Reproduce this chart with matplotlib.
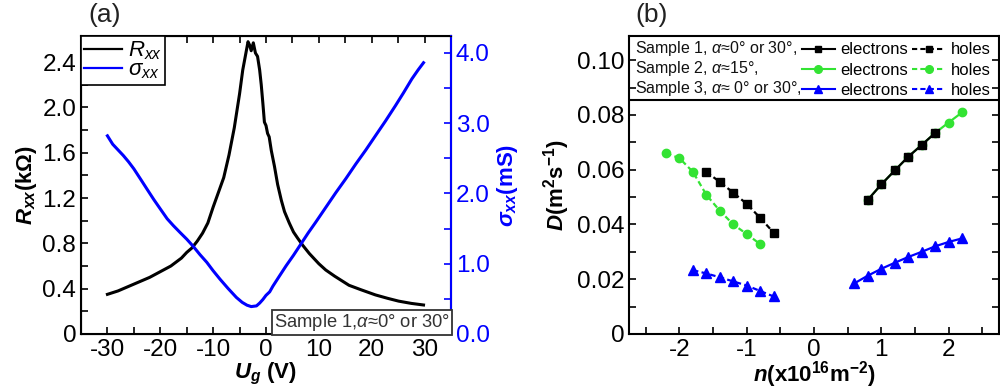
import matplotlib
matplotlib.use("Agg")
import matplotlib.pyplot as plt
from matplotlib.lines import Line2D
from matplotlib.ticker import MultipleLocator, FixedLocator

plt.rcParams['font.family'] = ['Liberation Sans', 'DejaVu Sans']
plt.rcParams['axes.unicode_minus'] = False
plt.rcParams['mathtext.fontset'] = 'custom'
plt.rcParams['mathtext.rm'] = 'Liberation Sans:bold'
plt.rcParams['mathtext.it'] = 'Liberation Sans:italic'
plt.rcParams['mathtext.bf'] = 'Liberation Sans:bold:italic'

# ---------------- Panel (a) data ----------------
ug_R = [-30, -28, -26, -24, -22, -20, -18, -16, -15, -14, -13, -12, -11, -10, -9, -8, -7, -6, -5,
        -4.4, -3.8, -3.4, -3.1, -2.8, -2.4, -2.0, -1.6, -1.2, -0.9, -0.6, -0.3, 0.0, 0.3, 0.6, 1.0,
        1.6, 2.2, 2.9, 3.5, 4.4, 5.2, 6.0, 7.0, 8.2, 10.0, 11.3, 13.0, 15.7, 18.0, 20.7, 23.0,
        25.1, 27.5, 29.8]
R_xx = [0.35, 0.38, 0.42, 0.46, 0.50, 0.55, 0.60, 0.67, 0.72, 0.76, 0.82, 0.89, 0.98, 1.12, 1.25,
        1.38, 1.58, 1.82, 2.12, 2.33, 2.48, 2.58, 2.55, 2.50, 2.57, 2.48, 2.45, 2.33, 2.20, 2.04,
        1.87, 1.84, 1.77, 1.74, 1.62, 1.48, 1.32, 1.18, 1.08, 0.98, 0.90, 0.845, 0.78, 0.71, 0.62,
        0.565, 0.51, 0.43, 0.39, 0.345, 0.315, 0.29, 0.27, 0.256]

ug_s = [-30, -29, -28, -27, -26, -25, -23.7, -22.5, -21.2, -20, -18.7, -17.5, -16.2, -15, -13.8,
        -12.5, -11.2, -10, -8.7, -7.2, -5.6, -4.5, -3.6, -2.8, -1.8, -1.2, -0.6, 0.0, 0.7, 1.3,
        2.5, 3.8, 5.2, 6.6, 8.0, 9.4, 11.3, 13.2, 15.1, 17.0, 18.9, 20.7, 22.6, 24.5, 26.0, 27.6,
        28.8, 29.8]
sigma_xx = [2.82, 2.70, 2.62, 2.54, 2.45, 2.35, 2.20, 2.06, 1.91, 1.78, 1.64, 1.54, 1.44, 1.35,
            1.25, 1.13, 1.02, 0.90, 0.78, 0.65, 0.52, 0.45, 0.41, 0.39, 0.40, 0.44, 0.49, 0.55,
            0.60, 0.68, 0.82, 0.97, 1.12, 1.28, 1.44, 1.59, 1.80, 2.01, 2.21, 2.42, 2.62, 2.82,
            3.03, 3.25, 3.43, 3.63, 3.76, 3.86]

# ---------------- Panel (b) data ----------------
n_s1_h = [-1.6, -1.4, -1.2, -1.0, -0.8, -0.6]
D_s1_h = [0.0592, 0.0555, 0.0516, 0.0475, 0.0424, 0.0370]
n_s1_e = [0.8, 1.0, 1.2, 1.4, 1.6, 1.8]
D_s1_e = [0.0490, 0.0546, 0.0597, 0.0647, 0.0690, 0.0734]

n_s2_h = [-2.2, -2.0, -1.8, -1.6, -1.4, -1.2, -1.0, -0.8]
D_s2_h = [0.0660, 0.0642, 0.0592, 0.0508, 0.0450, 0.0400, 0.0365, 0.0328]
n_s2_e = [0.8, 1.0, 1.2, 1.4, 1.6, 1.8, 2.0, 2.2]
D_s2_e = [0.0490, 0.0546, 0.0597, 0.0647, 0.0690, 0.0734, 0.0772, 0.0809]

n_s3_h = [-1.8, -1.6, -1.4, -1.2, -1.0, -0.8, -0.6]
D_s3_h = [0.0233, 0.0221, 0.0207, 0.0192, 0.0177, 0.0157, 0.0137]
n_s3_e = [0.6, 0.8, 1.0, 1.2, 1.4, 1.6, 1.8, 2.0, 2.2]
D_s3_e = [0.0185, 0.0213, 0.0238, 0.0260, 0.0281, 0.0300, 0.0320, 0.0336, 0.0349]

sample_labels = ["Sample 1, $\\alpha$≈0° or 30°,", "Sample 2, $\\alpha$≈15°,",
                 "Sample 3, $\\alpha$≈ 0° or 30°,"]

BLUE = '#0000ff'
GREEN = '#33e333'

fig = plt.figure(figsize=(10, 3.89), dpi=100)
axA = fig.add_axes([0.081, 0.1414, 0.370, 0.766])
axB = fig.add_axes([0.629, 0.1414, 0.370, 0.766])

TICK_FS = 17.5
LABEL_FS = 16

# ---- Panel (a)
axA.plot(ug_R, R_xx, color='black', lw=2.2, label='$R_{xx}$')
axA.set_xlim(-35, 35)
axA.set_ylim(0, 2.63)
axA.xaxis.set_major_locator(MultipleLocator(10))
axA.xaxis.set_minor_locator(MultipleLocator(5))
axA.yaxis.set_major_locator(FixedLocator([0, 0.4, 0.8, 1.2, 1.6, 2.0, 2.4]))
axA.yaxis.set_minor_locator(MultipleLocator(0.2))
axA.set_yticklabels(['0', '0.4', '0.8', '1.2', '1.6', '2.0', '2.4'])
axA.tick_params(which='both', direction='in', top=True, labelsize=TICK_FS, width=1.2, length=5)
axA.set_xlabel('$\\mathbf{U_g}$ (V)', fontsize=LABEL_FS, fontweight='bold', labelpad=0)
axA.set_ylabel('$\\mathbf{R_{xx}}$(kΩ)', fontsize=LABEL_FS, fontweight='bold', labelpad=2)
for sp in axA.spines.values():
    sp.set_linewidth(1.5)

axA2 = axA.twinx()
axA2.plot(ug_s, sigma_xx, color=BLUE, lw=2.2, label='$\\sigma_{xx}$')
axA2.set_ylim(0, 4.24)
axA2.yaxis.set_major_locator(MultipleLocator(1.0))
axA2.yaxis.set_minor_locator(MultipleLocator(0.5))
axA2.yaxis.set_major_formatter(matplotlib.ticker.FormatStrFormatter('%.1f'))
axA2.tick_params(which='both', direction='in', labelsize=TICK_FS, colors=BLUE, width=1.2, length=5)
axA2.spines['right'].set_color(BLUE)
axA2.spines['right'].set_linewidth(1.5)
axA2.set_ylabel('$\\mathbf{\\sigma_{xx}}$(mS)', fontsize=LABEL_FS, fontweight='bold',
                color=BLUE, labelpad=4)

handles = [Line2D([], [], color='black', lw=1.6), Line2D([], [], color=BLUE, lw=1.6)]
legA = axA2.legend(handles, ['$R_{xx}$', '$\\sigma_{xx}$'], loc='upper left',
                   borderaxespad=0, fancybox=False, edgecolor='black', framealpha=1,
                   fontsize=16, handlelength=1.7, handletextpad=0.25, labelspacing=-0.1,
                   borderpad=0.15)
legA.get_frame().set_linewidth(1.2)

axA2.text(0.998, 0.004, 'Sample 1,$\\alpha$≈0° or 30°', transform=axA.transAxes,
          ha='right', va='bottom', fontsize=13.2, color='#333333',
          bbox=dict(boxstyle='square,pad=0.12', facecolor='white', edgecolor='#333333', lw=1.3))

fig.text(0.105, 0.962, '(a)', fontsize=19, ha='center', va='center', color='#222222')

# ---- Panel (b)
lw_b = 1.6
dash = (0, (2.5, 1.5))
axB.plot(n_s2_e, D_s2_e, color=GREEN, marker='o', ms=6, lw=lw_b)
axB.plot(n_s2_h, D_s2_h, color=GREEN, marker='o', ms=6, lw=lw_b, ls=dash)
axB.plot(n_s1_e, D_s1_e, color='black', marker='s', ms=5.5, lw=lw_b)
axB.plot(n_s1_h, D_s1_h, color='black', marker='s', ms=5.5, lw=lw_b, ls=dash)
axB.plot(n_s3_e, D_s3_e, color=BLUE, marker='^', ms=6.5, lw=lw_b)
axB.plot(n_s3_h, D_s3_h, color=BLUE, marker='^', ms=6.5, lw=lw_b, ls=dash)

axB.set_xlim(-2.75, 2.75)
axB.set_ylim(0, 0.1088)
axB.xaxis.set_major_locator(MultipleLocator(1))
axB.xaxis.set_minor_locator(MultipleLocator(0.5))
axB.yaxis.set_major_locator(FixedLocator([0, 0.02, 0.04, 0.06, 0.08, 0.10]))
axB.yaxis.set_minor_locator(MultipleLocator(0.01))
axB.set_yticklabels(['0', '0.02', '0.04', '0.06', '0.08', '0.10'])
axB.tick_params(which='both', direction='in', right=True, labelsize=TICK_FS, width=1.2, length=5)
axB.set_xlabel('$\\mathbf{n}$(x10$^{16}$m$^{-2}$)', fontsize=LABEL_FS, fontweight='bold',
               labelpad=-1)
axB.set_ylabel('$\\mathbf{D}$(m$^{2}$s$^{-1}$)', fontsize=LABEL_FS, fontweight='bold',
               labelpad=3)
for sp in axB.spines.values():
    sp.set_linewidth(1.5)

# legend box for panel (b)
axB.axhline(0.785 * 0.1088, color='black', lw=1.5)
rows_y = [0.957, 0.891, 0.824]
for lab, yy in zip(sample_labels, rows_y):
    axB.text(0.016, yy, lab, transform=axB.transAxes, fontsize=11.5, va='center', ha='left',
             color='#111111')

hB = [Line2D([], [], color='black', marker='s', ms=5, lw=1.5),
      Line2D([], [], color=GREEN, marker='o', ms=5.5, lw=1.5),
      Line2D([], [], color=BLUE, marker='^', ms=6, lw=1.5),
      Line2D([], [], color='black', marker='s', ms=5, lw=1.5, ls=dash),
      Line2D([], [], color=GREEN, marker='o', ms=5.5, lw=1.5, ls=dash),
      Line2D([], [], color=BLUE, marker='^', ms=6, lw=1.5, ls=dash)]
lB = ['electrons'] * 3 + ['holes'] * 3
legB = axB.legend(hB, lB, ncol=2, loc='upper left', bbox_to_anchor=(0.458, 0.99),
                  frameon=False, fontsize=12, handlelength=2.0, handletextpad=0.3,
                  columnspacing=0.25, labelspacing=0.32, borderpad=0.2, borderaxespad=0)
fig.text(0.652, 0.962, '(b)', fontsize=19, ha='center', va='center', color='#222222')

fig.savefig('out.png', dpi=100)
